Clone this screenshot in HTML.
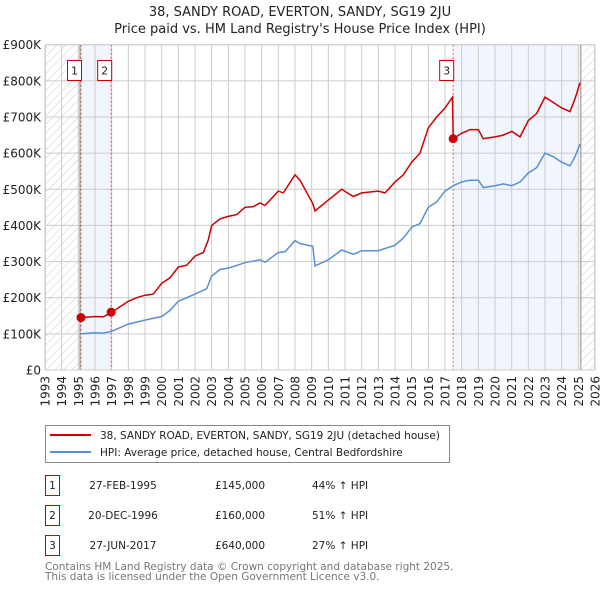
<!DOCTYPE html>
<html><head><meta charset="utf-8"><style>
body{margin:0;background:#fff;font-family:"Liberation Sans","DejaVu Sans",sans-serif}
svg text{font-family:"DejaVu Sans","Liberation Sans",sans-serif}
</style></head><body>
<svg id="chart" width="600" height="590" xmlns="http://www.w3.org/2000/svg">
<defs><pattern id="hatch" width="6" height="6" patternUnits="userSpaceOnUse" patternTransform="rotate(45)"><line x1="0" y1="0" x2="0" y2="6" stroke="#ccc" stroke-width="1"/></pattern></defs>
<text x="300" y="16" text-anchor="middle" font-size="13" fill="#222">38, SANDY ROAD, EVERTON, SANDY, SG19 2JU</text>
<text x="300" y="33" text-anchor="middle" font-size="13" fill="#222">Price paid vs. HM Land Registry's House Price Index (HPI)</text>
<g id="plot"></g>
<g>
<rect x="45.5" y="425.5" width="404" height="37" fill="#fff" stroke="#888"/>
<line x1="50" y1="435" x2="91" y2="435" stroke="#cc0000" stroke-width="2"/>
<text x="100" y="439" font-size="10.5" fill="#222">38, SANDY ROAD, EVERTON, SANDY, SG19 2JU (detached house)</text>
<line x1="50" y1="452" x2="91" y2="452" stroke="#5b8fd0" stroke-width="2"/>
<text x="100" y="456" font-size="10.5" fill="#222">HPI: Average price, detached house, Central Bedfordshire</text>
</g>
<g font-size="10.5" fill="#222">
<rect x="45.5" y="475.5" width="14" height="20" fill="#fff" stroke="#cc0000"/><text x="52.5" y="489" text-anchor="middle">1</text>
<text x="123" y="489" text-anchor="middle">27-FEB-1995</text><text x="240" y="489" text-anchor="middle">£145,000</text><text x="312" y="489">44% ↑ HPI</text>
<rect x="45.5" y="505.5" width="14" height="20" fill="#fff" stroke="#cc0000"/><text x="52.5" y="519" text-anchor="middle">2</text>
<text x="123" y="519" text-anchor="middle">20-DEC-1996</text><text x="240" y="519" text-anchor="middle">£160,000</text><text x="312" y="519">51% ↑ HPI</text>
<rect x="45.5" y="535.5" width="14" height="20" fill="#fff" stroke="#cc0000"/><text x="52.5" y="549" text-anchor="middle">3</text>
<text x="123" y="549" text-anchor="middle">27-JUN-2017</text><text x="240" y="549" text-anchor="middle">£640,000</text><text x="312" y="549">27% ↑ HPI</text>
</g>
<text x="45" y="570" font-size="10.5" fill="#777">Contains HM Land Registry data © Crown copyright and database right 2025.</text>
<text x="45" y="580" font-size="10.5" fill="#777">This data is licensed under the Open Government Licence v3.0.</text>
</svg>
<script>
const hpiYears=[1995.15,1996,1996.5,1997,1998,1999,2000,2000.5,2001,2002,2002.7,2003,2003.5,2004,2005,2005.9,2006.2,2007,2007.4,2008,2008.3,2009.07,2009.2,2010,2010.8,2011.5,2012,2013,2014,2014.5,2015,2015.5,2016,2016.5,2017,2017.5,2018,2018.5,2019,2019.3,2020,2020.5,2021,2021.5,2022,2022.5,2023,2023.5,2024,2024.5,2024.8,2025.1];
const hpiValues=[100,103,102,107,127,138,148,165,190,210,225,260,278,282,297,305,298,325,327,358,350,342,288,305,332,320,330,330,345,365,395,405,450,465,495,510,520,525,525,505,510,515,510,520,545,560,600,590,575,565,590,625];
const priceYears=[1995.15,1996,1996.5,1997,1997.5,1998,1998.5,1999,1999.5,2000,2000.5,2001,2001.5,2002,2002.5,2002.8,2003,2003.5,2004,2004.5,2005,2005.5,2005.9,2006.2,2007,2007.3,2008,2008.3,2009.07,2009.2,2010,2010.8,2011.5,2012,2013,2013.4,2014,2014.5,2015,2015.5,2016,2016.5,2017,2017.45,2017.49,2018,2018.5,2019,2019.3,2020,2020.5,2021,2021.5,2022,2022.5,2023,2023.5,2024,2024.5,2024.8,2025.1];
const priceValues=[145,148,147,160,175,190,200,207,210,240,255,285,290,315,325,360,400,418,425,430,450,452,462,455,495,490,540,525,460,440,470,500,480,490,495,490,520,540,575,600,670,700,725,755,640,655,665,665,640,645,650,660,645,690,710,755,740,725,715,750,795];
const saleYears=[1995.16,1996.97,2017.49];
const saleValues=[145,160,640];
const saleLabels=["1","2","3"];
const yTicks=[0,100,200,300,400,500,600,700,800,900];
const yTickLabels=["£0","£100K","£200K","£300K","£400K","£500K","£600K","£700K","£800K","£900K"];
const xTicks=[1993,1994,1995,1996,1997,1998,1999,2000,2001,2002,2003,2004,2005,2006,2007,2008,2009,2010,2011,2012,2013,2014,2015,2016,2017,2018,2019,2020,2021,2022,2023,2024,2025,2026];

const L=45,R=595,T=44.7,B=370,x0=1993,x1=2026,yMax=900;
const X=v=>L+(v-x0)/(x1-x0)*(R-L);
const Y=v=>B-v/yMax*(B-T);
const ns="http://www.w3.org/2000/svg";
const g=document.getElementById('plot');
function mk(tag,at,parent){const e=document.createElementNS(ns,tag);for(const k in at)e.setAttribute(k,at[k]);(parent||g).appendChild(e);return e;}
mk('rect',{x:L,y:T,width:R-L,height:B-T,fill:'#fff'});
let e;
e=mk('rect',{x:X(1995.15),y:T,width:X(1996.97)-X(1995.15),height:B-T,fill:'#eef3fc',opacity:0.8});


e=mk('rect',{x:X(2017.49),y:T,width:X(2025.1)-X(2017.49),height:B-T,fill:'#eef3fc',opacity:0.8});


e=mk('rect',{x:L,y:T,width:X(1995.1)-L,height:B-T,fill:'url(#hatch)'});


e=mk('rect',{x:X(2025.15),y:T,width:R-X(2025.15),height:B-T,fill:'url(#hatch)'});


yTicks.forEach((t,i)=>{
  e=mk('line',{x1:L,x2:R,y1:Y(t),y2:Y(t),stroke:'#ccc','stroke-width':1});
  
  
  e=mk('text',{x:L-4,y:Y(t)+4.5,'text-anchor':'end','font-size':12,fill:'#222'});
  e.textContent=yTickLabels[i];
  
  
});
xTicks.forEach(t=>{
  e=mk('line',{x1:X(t),x2:X(t),y1:T,y2:B,stroke:'#ccc','stroke-width':1});
  
  
  e=mk('text',{x:0,y:0,'font-size':12,fill:'#222','text-anchor':'end',transform:`translate(${X(t)+4.5},${B+6}) rotate(-90)`});
  e.textContent=t;
  
  
});
e=mk('line',{x1:X(1995.1),x2:X(1995.1),y1:T,y2:B,stroke:'#888'});


e=mk('line',{x1:X(2025.15),x2:X(2025.15),y1:T,y2:B,stroke:'#888'});


saleYears.forEach(s=>{
  e=mk('line',{x1:X(s),x2:X(s),y1:T,y2:B,stroke:'#e55','stroke-dasharray':'2,2','stroke-width':1});
  
  
});
e=mk('rect',{x:L+0.5,y:T,width:R-L-1,height:B-T,fill:'none',stroke:'#ccc'});
function path(xs,vs){return xs.map((x,i)=>(i?'L':'M')+X(x).toFixed(1)+','+Y(vs[i]).toFixed(1)).join('');}
e=mk('path',{d:path(hpiYears,hpiValues),fill:'none',stroke:'#5b8fd0','stroke-width':1.5});


e=mk('path',{d:path(priceYears,priceValues),fill:'none',stroke:'#cc0000','stroke-width':1.5});


saleYears.forEach((s,i)=>{
  e=mk('circle',{cx:X(s),cy:Y(saleValues[i]),r:4.5,fill:'#cc0000'});
  
  
  const bx=X(s)-14;
  e=mk('rect',{x:bx+0.5,y:60.5,width:14,height:20,fill:'#fff',stroke:'#cc0000'});
  
  
  e=mk('text',{x:bx+7.5,y:74.5,'text-anchor':'middle','font-size':11,fill:'#222'});
  e.textContent=saleLabels[i];
  
  
});
</script>
</body></html>
